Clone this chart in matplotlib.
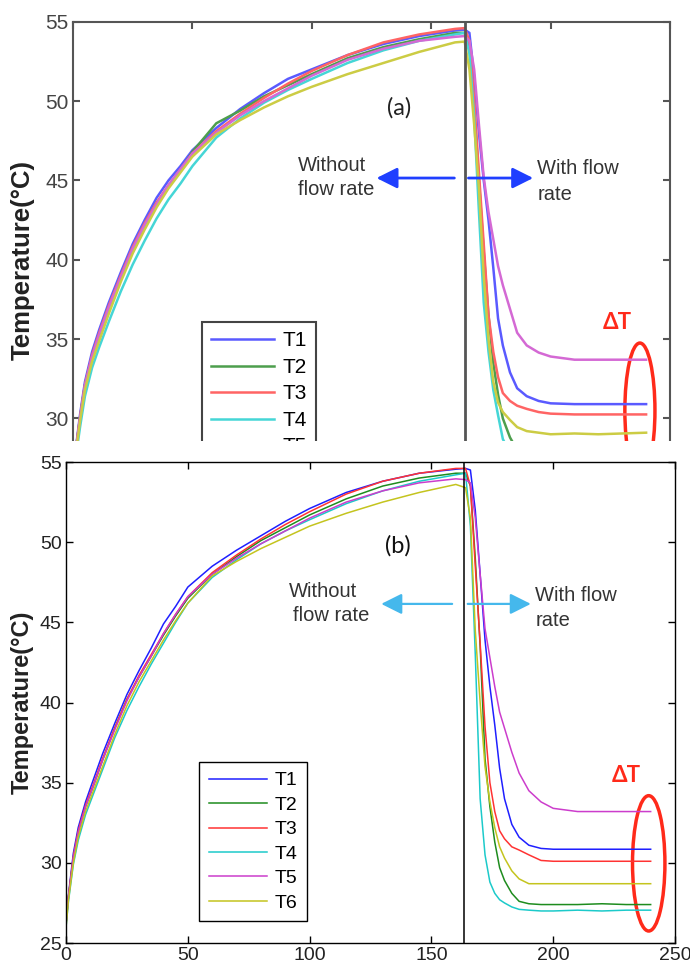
import matplotlib
matplotlib.use("Agg")
import matplotlib.pyplot as plt
from matplotlib.patches import Ellipse, Rectangle
import numpy as np

# time axis (s) shared by all sensors
time = [0, 1, 3, 5, 8, 11, 15, 20, 25, 30, 35, 40, 45, 50, 60, 70, 80, 90, 100, 115, 130, 145, 160,
        164, 166, 168, 170, 172, 174, 176, 178, 180, 183, 186, 190, 195, 200, 210, 220, 230, 240]

labels = ["T1", "T2", "T3", "T4", "T5", "T6"]

# ---- panel (a) ----
a_T1 = [26.0, 27.9, 30.3, 32.3, 34.2, 35.6, 37.3, 39.2, 41.0, 42.5, 43.9, 45.0, 45.9, 46.9, 48.3, 49.5, 50.5, 51.4, 52.0, 52.9, 53.6, 54.1, 54.45,
        54.5, 54.3, 51.5, 48.0, 45.0, 42.5, 39.5, 36.3, 34.6, 32.9, 31.9, 31.4, 31.1, 30.95, 30.9, 30.9, 30.9, 30.9]
a_T2 = [26.0, 27.8, 30.1, 32.1, 33.9, 35.3, 37.0, 38.9, 40.7, 42.2, 43.5, 44.6, 45.6, 46.8, 48.6, 49.4, 50.3, 51.0, 51.7, 52.7, 53.4, 53.9, 54.3,
        54.3, 53.5, 49.5, 45.0, 40.5, 36.5, 33.5, 31.5, 30.0, 28.8, 28.0, 27.6, 27.45, 27.4, 27.4, 27.4, 27.4, 27.4]
a_T3 = [26.0, 27.8, 30.1, 32.1, 34.0, 35.4, 37.1, 39.0, 40.8, 42.3, 43.6, 44.7, 45.7, 46.7, 48.1, 49.2, 50.2, 51.1, 51.9, 52.9, 53.7, 54.2, 54.55,
        54.6, 53.8, 50.0, 45.5, 41.0, 36.5, 34.2, 32.6, 31.6, 31.1, 30.8, 30.6, 30.4, 30.3, 30.25, 30.25, 30.25, 30.25]
a_T4 = [25.8, 27.4, 29.5, 31.4, 33.2, 34.5, 36.1, 38.0, 39.7, 41.2, 42.6, 43.8, 44.8, 45.9, 47.7, 48.9, 49.9, 50.7, 51.4, 52.4, 53.2, 53.8, 54.2,
        54.3, 53.0, 49.0, 43.0, 37.3, 34.2, 31.8, 30.2, 28.7, 27.8, 27.3, 27.1, 27.0, 27.0, 27.0, 27.0, 27.0, 27.0]
a_T5 = [26.0, 27.8, 30.1, 32.1, 33.9, 35.3, 37.0, 38.9, 40.7, 42.2, 43.5, 44.7, 45.7, 46.7, 48.0, 49.1, 50.0, 50.8, 51.6, 52.6, 53.3, 53.8, 54.05,
        54.1, 53.8, 52.0, 48.5, 45.2, 43.0, 41.3, 39.6, 38.4, 36.9, 35.4, 34.6, 34.15, 33.9, 33.7, 33.7, 33.7, 33.7]
a_T6 = [25.9, 27.6, 29.9, 31.8, 33.6, 34.9, 36.6, 38.6, 40.4, 41.9, 43.3, 44.5, 45.5, 46.5, 47.9, 48.8, 49.6, 50.3, 50.9, 51.7, 52.4, 53.1, 53.7,
        53.75, 52.0, 48.5, 44.5, 39.0, 35.0, 32.3, 31.0, 30.4, 29.9, 29.45, 29.2, 29.1, 29.0, 29.05, 29.0, 29.05, 29.1]

# ---- panel (b) ----
b_T1 = [26.2, 28.0, 30.6, 32.2, 33.8, 35.1, 36.8, 38.7, 40.5, 42.0, 43.4, 44.9, 46.0, 47.2, 48.5, 49.5, 50.4, 51.3, 52.1, 53.1, 53.8, 54.3, 54.55,
        54.6, 54.5, 52.0, 48.0, 43.9, 41.0, 38.6, 35.9, 34.0, 32.4, 31.6, 31.1, 30.9, 30.85, 30.85, 30.85, 30.85, 30.85]
b_T2 = [26.2, 27.9, 30.3, 31.9, 33.5, 34.7, 36.4, 38.4, 40.2, 41.6, 42.9, 44.2, 45.4, 46.5, 48.0, 49.1, 50.1, 50.9, 51.7, 52.7, 53.5, 54.0, 54.3,
        54.3, 53.5, 49.0, 43.5, 36.5, 33.5, 31.3, 29.7, 28.9, 28.1, 27.6, 27.45, 27.4, 27.4, 27.4, 27.45, 27.4, 27.4]
b_T3 = [26.2, 27.9, 30.4, 32.0, 33.6, 34.8, 36.5, 38.4, 40.2, 41.7, 43.0, 44.3, 45.5, 46.6, 48.1, 49.2, 50.2, 51.1, 51.9, 53.0, 53.8, 54.3, 54.6,
        54.6, 53.5, 48.5, 43.7, 38.5, 35.0, 33.2, 32.0, 31.5, 31.0, 30.8, 30.5, 30.15, 30.1, 30.1, 30.1, 30.1, 30.1]
b_T4 = [26.0, 27.6, 29.9, 31.4, 33.0, 34.2, 35.8, 37.8, 39.5, 41.0, 42.4, 43.7, 45.0, 46.2, 47.8, 48.9, 49.9, 50.7, 51.4, 52.4, 53.2, 53.8, 54.2,
        54.3, 51.0, 43.0, 34.0, 30.5, 28.8, 28.1, 27.7, 27.5, 27.25, 27.1, 27.05, 27.0, 27.0, 27.05, 27.0, 27.05, 27.05]
b_T5 = [26.2, 27.9, 30.3, 31.9, 33.5, 34.7, 36.4, 38.3, 40.1, 41.6, 42.9, 44.3, 45.5, 46.6, 48.0, 49.0, 49.9, 50.7, 51.5, 52.5, 53.2, 53.7, 53.95,
        53.9, 53.7, 51.5, 48.0, 44.6, 42.8, 41.0, 39.4, 38.4, 36.9, 35.6, 34.5, 33.8, 33.4, 33.2, 33.2, 33.2, 33.2]
b_T6 = [26.0, 27.7, 30.0, 31.6, 33.2, 34.4, 36.0, 38.0, 39.8, 41.3, 42.6, 43.9, 45.1, 46.2, 47.9, 48.8, 49.6, 50.3, 51.0, 51.8, 52.5, 53.1, 53.6,
        53.4, 51.5, 44.5, 40.0, 36.0, 33.8, 32.2, 31.0, 30.3, 29.5, 29.0, 28.7, 28.7, 28.7, 28.7, 28.7, 28.7, 28.7]

colors_a = ["#5a5aff", "#4d9e4d", "#ff6464", "#45d6d6", "#d469d4", "#cccc44"]
colors_b = ["#1f1fff", "#1e8c1e", "#ff3333", "#1ccaca", "#cc3dcc", "#c4c41e"]

flow_start_a = 164.2
flow_start_b = 163.4

plt.rcParams['font.family'] = ['Liberation Sans Narrow', 'Liberation Sans', 'DejaVu Sans']

fig = plt.figure(figsize=(6.9, 9.71), dpi=100)

ax_a = fig.add_axes([0.1058, 0.4874, 0.8652, 0.4902])
ax_b = fig.add_axes([0.0957, 0.0288, 0.8826, 0.4954])
ax_b.set_zorder(2)

# white block hiding the lower part of panel (a)
fig.patches.append(Rectangle((0, 0), 1, (971 - 441) / 971, transform=fig.transFigure,
                             facecolor="white", edgecolor="none", zorder=1))


def style_axes(ax, spine_col, spine_lw, tick_size, label_size, lab_col):
    ax.set_xlim(0, 250)
    ax.set_ylim(25, 55)
    ax.set_xticks([0, 50, 100, 150, 200, 250])
    ax.set_yticks([25, 30, 35, 40, 45, 50, 55])
    for s in ax.spines.values():
        s.set_color(spine_col)
        s.set_linewidth(spine_lw)
    ax.tick_params(direction="in", top=True, right=True, length=5, width=spine_lw,
                   color=spine_col, labelsize=tick_size, labelcolor=lab_col, pad=3)
    ax.set_ylabel("Temperature(\u00b0C)", family=['Liberation Sans', 'DejaVu Sans'],
                  fontweight="bold", fontsize=label_size, color="#222222")


# ---------- panel (a) ----------
for y, lab, c in zip([a_T1, a_T2, a_T3, a_T4, a_T5, a_T6], labels, colors_a):
    ax_a.plot(time, y, color=c, lw=1.8, label=lab)
ax_a.axvline(flow_start_a, color="#555555", lw=2)
style_axes(ax_a, "#555555", 1.5, 15, 18.5, "#444444")
ax_a.tick_params(labelbottom=False)
ax_a.yaxis.set_label_coords(-0.064, 0.5)
leg = ax_a.legend(loc="upper left", bbox_to_anchor=(0.216, 0.369), borderaxespad=0,
                  fancybox=False, edgecolor="#444444", fontsize=15, handlelength=3.0,
                  labelspacing=0.36, handletextpad=0.4, borderpad=0.45, framealpha=1)
leg.get_frame().set_linewidth(1.5)

ax_a.text(136.5, 49.6, "(a)", family=['Lato', 'DejaVu Sans'], fontsize=17,
          ha="center", va="center", color="#222222")
ax_a.text(94.1, 45.97, "Without", family=['Liberation Sans'], fontsize=14.5,
          ha="left", va="center", color="#333333")
ax_a.text(94.1, 44.45, "flow rate", family=['Liberation Sans'], fontsize=14.5,
          ha="left", va="center", color="#333333")
ax_a.text(194.4, 45.76, "With flow", family=['Liberation Sans'], fontsize=14.5,
          ha="left", va="center", color="#333333")
ax_a.text(194.4, 44.1, "rate", family=['Liberation Sans'], fontsize=14.5,
          ha="left", va="center", color="#333333")
arrow_a = dict(arrowstyle="-|>,head_length=0.7,head_width=0.35", color="#1f3fff", lw=2,
               shrinkA=0, shrinkB=0, mutation_scale=18)
ax_a.annotate("", xy=(127.1, 45.15), xytext=(159.7, 45.15), arrowprops=arrow_a)
ax_a.annotate("", xy=(192.7, 45.15), xytext=(165.6, 45.15), arrowprops=arrow_a)
ax_a.text(228, 36.06, "\u0394T", family=['Lato', 'DejaVu Sans'], fontsize=16,
          fontweight="bold", ha="center", va="center", color="#ff2a1a")
ax_a.add_patch(Ellipse((237.4, 30.5), 12.6, 8.5, fill=False, ec="#ff2a1a", lw=2.5))

# ---------- panel (b) ----------
for y, lab, c in zip([b_T1, b_T2, b_T3, b_T4, b_T5, b_T6], labels, colors_b):
    ax_b.plot(time, y, color=c, lw=1.1, label=lab)
ax_b.axvline(flow_start_b, color="black", lw=1.1)
style_axes(ax_b, "black", 1.0, 14, 17, "#222222")
ax_b.yaxis.set_label_coords(-0.053, 0.5)
leg = ax_b.legend(loc="upper left", bbox_to_anchor=(0.218, 0.376), borderaxespad=0,
                  fancybox=False, edgecolor="black", fontsize=14, handlelength=3.0,
                  labelspacing=0.35, handletextpad=0.4, borderpad=0.5, framealpha=1)
leg.get_frame().set_linewidth(1.0)

ax_b.text(136.1, 49.8, "(b)", family=['Lato', 'DejaVu Sans'], fontsize=17,
          ha="center", va="center", color="#111111")
ax_b.text(105.3, 46.9, "Without", family=['Liberation Sans'], fontsize=14.5,
          ha="center", va="center", color="#333333")
ax_b.text(109.0, 45.4, "flow rate", family=['Liberation Sans'], fontsize=14.5,
          ha="center", va="center", color="#333333")
ax_b.text(192.6, 46.7, "With flow", family=['Liberation Sans'], fontsize=14.5,
          ha="left", va="center", color="#333333")
ax_b.text(192.6, 45.1, "rate", family=['Liberation Sans'], fontsize=14.5,
          ha="left", va="center", color="#333333")
arrow_b = dict(arrowstyle="-|>,head_length=0.7,head_width=0.35", color="#45b8ec", lw=1.6,
               shrinkA=0, shrinkB=0, mutation_scale=18)
ax_b.annotate("", xy=(129.4, 46.15), xytext=(158.5, 46.15), arrowprops=arrow_b)
ax_b.annotate("", xy=(190.8, 46.15), xytext=(164.9, 46.15), arrowprops=arrow_b)
ax_b.text(229.9, 35.44, "\u0394T", family=['Lato', 'DejaVu Sans'], fontsize=16,
          fontweight="bold", ha="center", va="center", color="#ff2a1a")
ax_b.add_patch(Ellipse((239.2, 29.97), 13.3, 8.44, fill=False, ec="#ff2a1a", lw=2.5))

fig.savefig("out.png", dpi=100)
